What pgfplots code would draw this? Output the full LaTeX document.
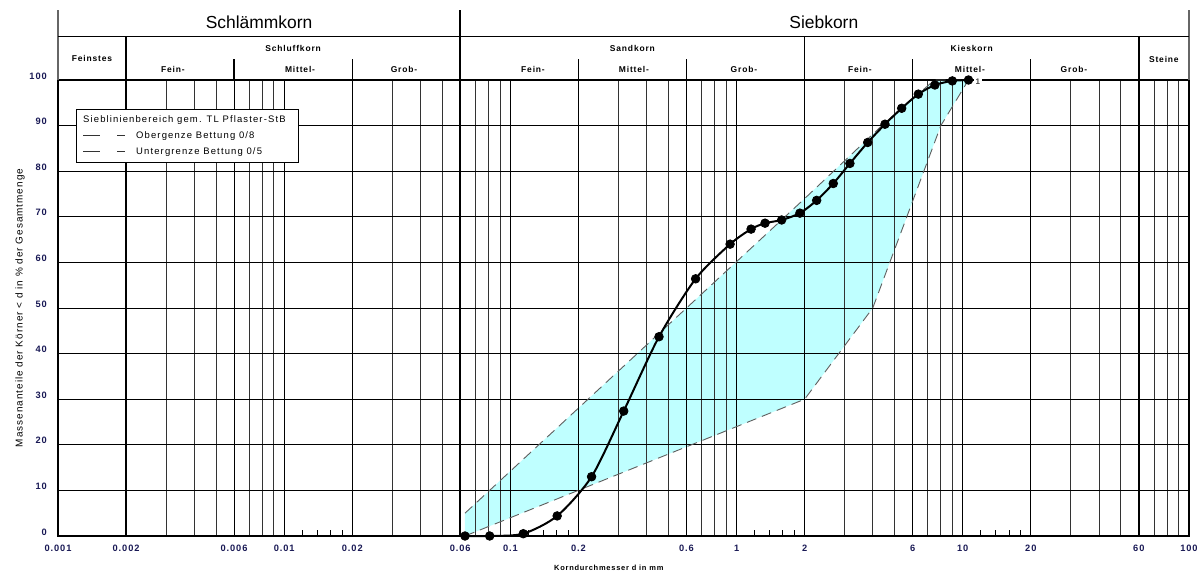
\documentclass[border=0pt]{standalone}
\usepackage{fontspec}
\setmainfont{Liberation Sans}
\newfontfamily\lsA[LetterSpace=10]{Liberation Sans}
\newfontfamily\lsB[LetterSpace=12]{Liberation Sans}
\usepackage{pgfplots}
\pgfplotsset{compat=1.18}
\definecolor{fillcyan}{RGB}{191,255,255}
\definecolor{ticknavy}{RGB}{25,25,85}
\definecolor{dashgray}{RGB}{95,95,95}
\begin{document}
\begin{tikzpicture}
\path (0bp,0bp) rectangle (1201bp,574bp);
\begin{axis}[
  set layers,
  at={(58bp,38bp)}, anchor=south west,
  scale only axis, width=1131bp, height=456bp,
  xmode=log, log basis x=10,
  xmin=0.001, xmax=100, ymin=0, ymax=100,
  clip=false,
  axis line style={line width=2bp},
  tick pos=left,
  xtick={0.001,0.002,0.006,0.01,0.02,0.06,0.1,0.2,0.6,1,2,6,10,20,60,100},
  xticklabels={0.001,0.002,0.006,0.01,0.02,0.06,0.1,0.2,0.6,1,2,6,10,20,60,100},
  minor xtick={0.003,0.004,0.005,0.007,0.008,0.009,0.03,0.04,0.05,0.07,0.08,0.09,0.3,0.4,0.5,0.7,0.8,0.9,3,4,5,7,8,9,30,40,50,70,80,90},
  extra x ticks={0.012,0.014,0.016,0.018,0.12,0.14,0.16,0.18,1.2,1.4,1.6,1.8,12,14,16,18},
  extra x tick labels={},
  extra x tick style={grid=none, major tick length=6bp, tick align=inside, major tick style={draw=black, line width=0.8bp}},
  ytick={0,10,20,30,40,50,60,70,80,90,100},
  yticklabels={0,10,20,30,40,50,60,70,80,90,100},
  xmajorgrids, xminorgrids, ymajorgrids,
  major grid style={black, line width=0.8bp},
  minor grid style={black!80, line width=0.8bp},
  major tick length=0pt, minor tick length=0pt,
  ticklabel style={font=\lsA\bfseries\fontsize{9.3}{10}\selectfont, text=ticknavy, inner sep=0pt},
  xticklabel style={anchor=center, yshift=-12.5bp},
  yticklabel style={anchor=east, xshift=-11bp, yshift=4bp},
  xlabel={Korndurchmesser d in mm},
  xlabel style={at={(axis description cs:0.487,0)}, anchor=center, yshift=-32bp, font=\lsA\bfseries\fontsize{7.5}{9}\selectfont},
  ylabel={Massenanteile der Körner < d in \% der Gesamtmenge},
  ylabel style={at={(axis description cs:-0.0336,0.5)}, anchor=center, font=\lsA\fontsize{10}{12}\selectfont},
]
% Sieblinienbereich (area between bounds)
\addplot[fill=fillcyan, draw=none, on layer=axis background] coordinates {
  (0.063,0) (0.063,5) (2,74) (4.5,90.5) (7.5,100) (10.6,100) (8,90) (4,50) (2,30) (0.063,0)};
% Obergrenze Bettung 0/8
\addplot[dashgray, line width=0.9bp, dash pattern=on 10bp off 6bp] coordinates {
  (0.063,5) (2,74) (4.5,90.5) (7.5,100) (10.6,100)};
% Untergrenze Bettung 0/5
\addplot[dashgray, line width=0.9bp, dash pattern=on 10bp off 6bp] coordinates {
  (0.063,0) (2,30) (4,50) (8,90) (10.6,100)};
% Sieblinie 1
\addplot[black, line width=2bp, smooth, tension=0.45, mark=*, mark size=4.3bp,
  mark options={solid, fill=black, line width=0.8bp}] coordinates {
  (0.063,0) (0.081,0) (0.114,0.5) (0.161,4.4) (0.2285,13.0) (0.317,27.4)
  (0.454,43.7) (0.659,56.4) (0.936,64.0) (1.159,67.3) (1.336,68.6) (1.582,69.3)
  (1.905,70.8) (2.26,73.6) (2.676,77.3) (3.17,81.7) (3.80,86.3) (4.53,90.3)
  (5.37,93.8) (6.36,96.9) (7.53,98.9) (8.99,99.8) (10.6,100)};
% thick boundary lines
\draw[line width=1.6bp] (0.002,0) -- (0.002,109.5);
\draw[line width=1.6bp] (0.06,0) -- (0.06,115.35);
\draw[line width=1.6bp] (2,0) -- (2,109.5);
\draw[line width=1.6bp] (60,0) -- (60,109.5);
\draw[line width=1.6bp, black!60] (0.001,100) -- (0.001,115.35);
\draw[line width=1.6bp, black!60] (100,100) -- (100,115.35);
\draw[line width=1.2bp] (0.001,109.5) -- (100,109.5);
\draw[line width=1.2bp] (0.006,100) -- (0.006,104.6);
\draw[line width=1.2bp] (0.02,100) -- (0.02,104.6);
\draw[line width=1.2bp] (0.2,100) -- (0.2,104.6);
\draw[line width=1.2bp] (0.6,100) -- (0.6,104.6);
\draw[line width=1.2bp] (6,100) -- (6,104.6);
\draw[line width=1.2bp] (20,100) -- (20,104.6);
% header texts
\node[font=\fontsize{17.5}{20}\selectfont] at (0.007746,112.7) {Schlämmkorn};
\node[font=\fontsize{17.5}{20}\selectfont] at (2.43,112.7) {Siebkorn};
\node[font=\lsA\bfseries\fontsize{8.5}{10}\selectfont] at (0.001414,104.8) {Feinstes};
\node[font=\lsA\bfseries\fontsize{8.5}{10}\selectfont] at (0.01095,107.0) {Schluffkorn};
\node[font=\lsA\bfseries\fontsize{8.5}{10}\selectfont] at (0.3464,107.0) {Sandkorn};
\node[font=\lsA\bfseries\fontsize{8.5}{10}\selectfont] at (10.95,107.0) {Kieskorn};
\node[font=\lsA\bfseries\fontsize{8.5}{10}\selectfont] at (77.46,104.4) {Steine};
\node[font=\lsA\bfseries\fontsize{8.5}{10}\selectfont] at (0.003224,102.2) {Fein-};
\node[font=\lsA\bfseries\fontsize{8.5}{10}\selectfont] at (0.01175,102.2) {Mittel-};
\node[font=\lsA\bfseries\fontsize{8.5}{10}\selectfont] at (0.03387,102.2) {Grob-};
\node[font=\lsA\bfseries\fontsize{8.5}{10}\selectfont] at (0.1259,102.2) {Fein-};
\node[font=\lsA\bfseries\fontsize{8.5}{10}\selectfont] at (0.3519,102.2) {Mittel-};
\node[font=\lsA\bfseries\fontsize{8.5}{10}\selectfont] at (1.078,102.2) {Grob-};
\node[font=\lsA\bfseries\fontsize{8.5}{10}\selectfont] at (3.512,102.2) {Fein-};
\node[font=\lsA\bfseries\fontsize{8.5}{10}\selectfont] at (10.76,102.2) {Mittel-};
\node[font=\lsA\bfseries\fontsize{8.5}{10}\selectfont] at (31.0,102.2) {Grob-};
\node[fill=white, inner sep=1.5bp, font=\bfseries\fontsize{8}{9}\selectfont, text=black!75] at (11.67,99.6) {1};
\end{axis}
% legend
\begin{scope}[x=1bp, y=1bp]
\draw[line width=0.8bp, fill=white] (76,465) rectangle (298,412);
\node[anchor=base west, inner sep=0pt, font=\lsB\fontsize{9.5}{11}\selectfont] at (83,451.5) {Sieblinienbereich gem. TL Pflaster-StB};
\draw[line width=0.8bp, black!80] (83,439) -- (100,439);
\draw[line width=0.8bp, black!80] (117,439) -- (125,439);
\node[anchor=base west, inner sep=0pt, font=\lsB\fontsize{9.5}{11}\selectfont] at (136,435.5) {Obergenze Bettung 0/8};
\draw[line width=0.8bp, black!80] (83,423) -- (100,423);
\draw[line width=0.8bp, black!80] (117,423) -- (125,423);
\node[anchor=base west, inner sep=0pt, font=\lsB\fontsize{9.5}{11}\selectfont] at (136,419.5) {Untergrenze Bettung 0/5};
\end{scope}
\end{tikzpicture}
\end{document}
